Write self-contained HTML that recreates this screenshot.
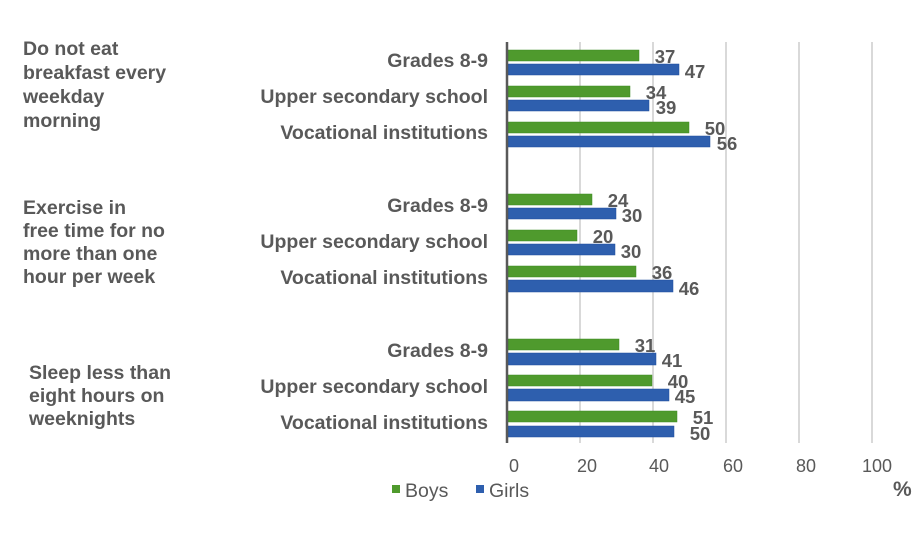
<!DOCTYPE html>
<html><head><meta charset="utf-8"><style>
body{margin:0;background:#fff}
svg text{font-family:"Liberation Sans",Arial,sans-serif;fill:#595959}
</style></head><body>
<svg width="920" height="529" viewBox="0 0 920 529" xmlns="http://www.w3.org/2000/svg">
<g stroke="#d9d9d9" stroke-width="2">
<line x1="580" y1="42" x2="580" y2="443"/><line x1="653" y1="42" x2="653" y2="443"/>
<line x1="726" y1="42" x2="726" y2="443"/><line x1="799" y1="42" x2="799" y2="443"/>
<line x1="872" y1="42" x2="872" y2="443"/>
</g>
<g fill="#4f9a2d" stroke="#3f8a22" stroke-width="0.5">
<rect x="508" y="50" width="131" height="11"/>
<rect x="508" y="86" width="122" height="11"/>
<rect x="508" y="122" width="181" height="11"/>
<rect x="508" y="194" width="84" height="11"/>
<rect x="508" y="230" width="69" height="11"/>
<rect x="508" y="266" width="128" height="11"/>
<rect x="508" y="339" width="111" height="11"/>
<rect x="508" y="375" width="144" height="11"/>
<rect x="508" y="411" width="169" height="11"/>
</g>
<g fill="#2e5fae" stroke="#1f4f9e" stroke-width="0.5">
<rect x="508" y="64" width="171" height="11"/>
<rect x="508" y="100" width="141" height="11"/>
<rect x="508" y="136" width="202" height="11"/>
<rect x="508" y="208" width="108" height="11"/>
<rect x="508" y="244" width="107" height="11"/>
<rect x="508" y="280" width="165" height="12"/>
<rect x="508" y="353" width="148" height="12"/>
<rect x="508" y="389" width="161" height="12"/>
<rect x="508" y="426" width="166" height="11"/>
</g>
<line x1="507" y1="42" x2="507" y2="443" stroke="#595959" stroke-width="2.5"/>
<g font-size="18.5" font-weight="bold" text-anchor="middle">
<text x="665" y="63">37</text><text x="695" y="78">47</text>
<text x="656" y="99">34</text><text x="666" y="114">39</text>
<text x="715" y="135">50</text><text x="727" y="150">56</text>
<text x="618" y="207">24</text><text x="632" y="222">30</text>
<text x="603" y="243">20</text><text x="631" y="258">30</text>
<text x="662" y="279">36</text><text x="689" y="295">46</text>
<text x="645" y="352">31</text><text x="672" y="367">41</text>
<text x="678" y="388">40</text><text x="685" y="403">45</text>
<text x="703" y="424">51</text><text x="700" y="440">50</text>
</g>
<g font-size="19.5" font-weight="bold" text-anchor="end">
<text x="488" y="67">Grades 8-9</text>
<text x="488" y="103">Upper secondary school</text>
<text x="488" y="139">Vocational institutions</text>
<text x="488" y="212">Grades 8-9</text>
<text x="488" y="248">Upper secondary school</text>
<text x="488" y="284">Vocational institutions</text>
<text x="488" y="357">Grades 8-9</text>
<text x="488" y="393">Upper secondary school</text>
<text x="488" y="429">Vocational institutions</text>
</g>
<g font-size="19.5" font-weight="bold">
<text x="23" y="55">Do not eat</text><text x="23" y="79">breakfast every</text>
<text x="23" y="103">weekday</text><text x="23" y="127">morning</text>
<text x="23" y="214">Exercise in</text><text x="23" y="237">free time for no</text>
<text x="23" y="260">more than one</text><text x="23" y="283">hour per week</text>
<text x="29" y="379">Sleep less than</text><text x="29" y="402">eight hours on</text>
<text x="29" y="425">weeknights</text>
</g>
<g font-size="18" text-anchor="middle">
<text x="514" y="472">0</text><text x="587" y="472">20</text><text x="659" y="472">40</text>
<text x="733" y="472">60</text><text x="806" y="472">80</text><text x="877" y="472">100</text>
</g>
<rect x="392" y="485" width="8" height="8" fill="#4f9a2d"/>
<text x="405" y="497" font-size="19.5">Boys</text>
<rect x="476" y="485" width="8" height="8" fill="#2e5fae"/>
<text x="489" y="497" font-size="19.5">Girls</text>
<text x="893" y="496" font-size="21" font-weight="bold">%</text>
</svg>
</body></html>
